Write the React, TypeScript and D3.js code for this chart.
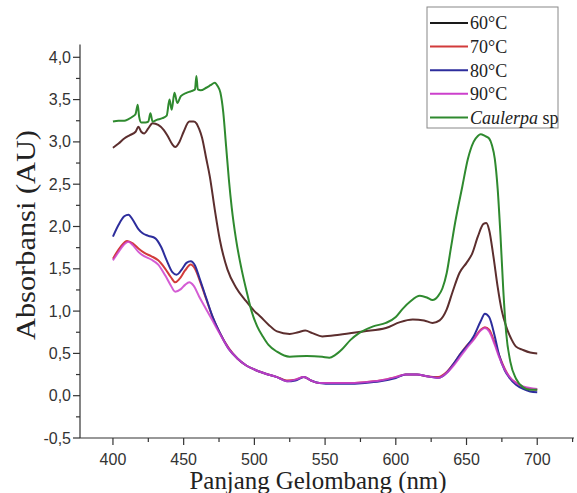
import React, {useMemo} from "react";
import * as d3 from "d3";

// absorbance spectra: [wavelength nm, absorbance AU]
const c60 = [
    [400, 2.93], [404, 2.98], [408, 3.04], [412, 3.08], [416, 3.12], [418, 3.18], [420, 3.12], [422, 3.1],
    [425, 3.16], [428, 3.22], [432, 3.2], [436, 3.14], [439, 3.06], [442, 2.97], [444, 2.94], [447, 3.0],
    [450, 3.12], [454, 3.24], [457, 3.24], [459, 3.22], [461, 3.15], [463, 3.05], [466, 2.8], [468.5, 2.59],
    [472, 2.2], [475.6, 1.84], [481, 1.49], [487, 1.28], [494, 1.12], [500, 1.0], [504, 0.94], [510, 0.84],
    [516, 0.76], [525, 0.73], [531, 0.75], [536, 0.77], [541, 0.74], [548, 0.7], [560, 0.72], [577, 0.76],
    [593, 0.8], [603, 0.87], [612, 0.9], [620, 0.89], [626, 0.86], [631, 0.89], [636, 1.02], [640, 1.22],
    [645, 1.45], [650, 1.57], [654, 1.68], [658, 1.88], [662, 2.03], [664, 2.04], [666, 1.96], [669, 1.65],
    [672, 1.29], [675, 1.0], [678, 0.82], [682, 0.66], [685, 0.58], [690, 0.54], [695, 0.51], [700, 0.5],
];

const c70 = [
    [400, 1.62], [405, 1.75], [410, 1.83], [414, 1.8], [418, 1.74], [422, 1.69], [427, 1.65], [432, 1.6],
    [437, 1.5], [441, 1.4], [444, 1.34], [447, 1.38], [451, 1.48], [455, 1.55], [458, 1.5], [462, 1.33],
    [466, 1.14], [470, 0.95], [475, 0.76], [482, 0.56], [488, 0.44], [494, 0.36], [500, 0.31], [508, 0.26],
    [516, 0.22], [523, 0.18], [529, 0.19], [535, 0.22], [540, 0.18], [546, 0.15], [555, 0.15], [565, 0.15],
    [578, 0.16], [589, 0.18], [600, 0.22], [607, 0.25], [615, 0.25], [622, 0.23], [630, 0.22], [636, 0.28],
    [641, 0.38], [646, 0.5], [650, 0.59], [655, 0.67], [660, 0.78], [663, 0.81], [666, 0.78], [670, 0.62],
    [673, 0.48], [677, 0.32], [680, 0.23], [685, 0.15], [690, 0.1], [695, 0.08], [700, 0.07],
];

const c80 = [
    [400, 1.88], [404, 2.02], [408, 2.12], [411, 2.14], [414, 2.08], [418, 1.97], [421, 1.92], [425, 1.89],
    [430, 1.86], [434, 1.76], [438, 1.6], [442, 1.46], [445, 1.43], [449, 1.5], [452, 1.57], [455, 1.59],
    [458, 1.54], [461, 1.4], [466, 1.15], [471, 0.91], [476, 0.73], [482, 0.55], [488, 0.44], [494, 0.36],
    [500, 0.31], [508, 0.26], [516, 0.22], [523, 0.17], [529, 0.18], [535, 0.22], [540, 0.18], [546, 0.15],
    [555, 0.14], [565, 0.14], [578, 0.15], [589, 0.17], [600, 0.21], [607, 0.25], [615, 0.25], [622, 0.23],
    [630, 0.21], [636, 0.27], [641, 0.38], [646, 0.5], [650, 0.58], [655, 0.7], [660, 0.88], [663, 0.97],
    [666, 0.93], [670, 0.7], [673, 0.48], [677, 0.3], [680, 0.22], [685, 0.13], [690, 0.08], [695, 0.05],
    [700, 0.04],
];

const c90 = [
    [400, 1.6], [404, 1.7], [408, 1.79], [411, 1.82], [414, 1.78], [418, 1.7], [422, 1.65], [427, 1.61],
    [432, 1.55], [437, 1.42], [441, 1.3], [444, 1.23], [448, 1.26], [451, 1.31], [454, 1.34], [457, 1.3],
    [461, 1.17], [466, 1.02], [470, 0.9], [476, 0.72], [482, 0.55], [488, 0.44], [494, 0.36], [500, 0.31],
    [508, 0.26], [516, 0.22], [523, 0.17], [529, 0.19], [535, 0.22], [540, 0.18], [546, 0.15], [555, 0.15],
    [565, 0.15], [578, 0.16], [589, 0.18], [600, 0.22], [607, 0.25], [615, 0.25], [622, 0.23], [630, 0.21],
    [636, 0.27], [641, 0.36], [646, 0.47], [650, 0.56], [655, 0.66], [660, 0.77], [663, 0.8], [666, 0.76],
    [670, 0.6], [673, 0.46], [677, 0.31], [680, 0.23], [685, 0.15], [690, 0.11], [695, 0.09], [700, 0.08],
];

const caulerpa = [
    [400, 3.24], [404, 3.25], [408, 3.25], [411, 3.27], [414, 3.3], [416, 3.33], [417.5, 3.44], [418.5, 3.3],
    [420, 3.23], [423, 3.23], [425, 3.24], [426.5, 3.34], [428, 3.24], [431, 3.26], [435, 3.28], [438, 3.31],
    [440, 3.5], [441.5, 3.38], [443.5, 3.58], [445.5, 3.46], [448, 3.54], [452, 3.58], [455.5, 3.6], [458, 3.62],
    [459, 3.78], [460, 3.62], [462, 3.61], [466, 3.64], [469, 3.67], [472, 3.7], [474, 3.66], [476, 3.58],
    [478, 3.35], [480, 2.95], [482, 2.55], [484, 2.22], [487, 1.85], [491, 1.49], [495, 1.2], [498, 1.0],
    [502, 0.82], [506, 0.7], [510, 0.6], [516, 0.52], [525, 0.46], [537, 0.47], [548, 0.46], [553, 0.45],
    [557, 0.48], [562, 0.55], [568, 0.66], [574, 0.74], [584, 0.82], [593, 0.86], [600, 0.93], [605, 1.03],
    [610, 1.11], [617, 1.18], [622, 1.16], [626, 1.13], [630, 1.18], [633, 1.27], [636, 1.45], [639, 1.75],
    [642, 2.05], [647, 2.47], [651, 2.8], [655, 3.0], [658, 3.07], [660, 3.09], [663, 3.07], [666, 3.04],
    [668, 2.96], [670, 2.8], [672, 2.45], [674, 1.9], [676, 1.25], [678, 0.75], [681, 0.4], [685, 0.2],
    [690, 0.1], [695, 0.07], [700, 0.07],
];

const seriesNames = ["60°C", "70°C", "80°C", "90°C", "Caulerpa"];
const seriesData = [c60, c70, c80, c90, caulerpa];
const lineColors = ["#5c2e2e", "#d23b3b", "#2d2d9c", "#cc40cc", "#2f8a2f"];
const legendColors = ["#1a1a1a", "#d23b3b", "#2d2d9c", "#cc40cc", "#2f8a2f"];

const xTicks = [400, 450, 500, 550, 600, 650, 700];
const yTicks = [-0.5, 0, 0.5, 1, 1.5, 2, 2.5, 3, 3.5, 4];

const W = 577;
const H = 493;
const SANS = "'Liberation Sans', Arial, Helvetica, sans-serif";
const SERIF = "'Liberation Serif', 'Times New Roman', Times, serif";

const App = () => {
    const xScale = useMemo(() => d3.scaleLinear().domain([376.7, 726]).range([80, 574]), []);
    const yScale = useMemo(() => d3.scaleLinear().domain([-0.5, 4.15]).range([438, 44.6]), []);

    const lineGen = d3
        .line()
        .x((d) => xScale(d[0]))
        .y((d) => yScale(d[1]))
        .curve(d3.curveMonotoneX);

    const fmt = (v) => d3.format(".1f")(v).replace(".", ",").replace("−", "-");

    const xMinor = d3.range(425, 726, 50);
    const yMinor = d3.range(-0.25, 4.1, 0.5);

    const x0 = xScale.range()[0];
    const y0 = yScale.range()[0];

    return (
        <svg width={W} height={H} style={{position: "absolute", left: 0, top: 0}}>
            <rect width={W} height={H} fill="#fff" />

            {/* curves */}
            {seriesData.map((s, i) => (
                <path
                    key={i}
                    d={lineGen(s)}
                    fill="none"
                    stroke={lineColors[i]}
                    strokeWidth={2}
                    strokeOpacity={i == 3 ? 0.85 : 1}
                    strokeLinejoin="round"
                />
            ))}

            {/* axes */}
            <line x1={x0} x2={xScale.range()[1]} y1={y0} y2={y0} stroke="#333" strokeWidth={1.2} />
            <line x1={x0} x2={x0} y1={y0} y2={yScale.range()[1]} stroke="#333" strokeWidth={1.2} />

            {xTicks.map((t) => (
                <g key={"x" + t}>
                    <line x1={xScale(t)} x2={xScale(t)} y1={y0} y2={y0 + 7} stroke="#333" strokeWidth={1.2} />
                    <text
                        x={xScale(t)}
                        y={y0 + 27}
                        textAnchor="middle"
                        style={{fontFamily: SANS, fontSize: 16}}
                        fill="#333"
                    >
                        {t}
                    </text>
                </g>
            ))}
            {xMinor.map((t) => (
                <line key={"xm" + t} x1={xScale(t)} x2={xScale(t)} y1={y0} y2={y0 + 4} stroke="#333" strokeWidth={1.2} />
            ))}

            {yTicks.map((t) => (
                <g key={"y" + t}>
                    <line x1={x0 - 7} x2={x0} y1={yScale(t)} y2={yScale(t)} stroke="#333" strokeWidth={1.2} />
                    <text
                        x={x0 - 9}
                        y={yScale(t)}
                        dy="0.35em"
                        textAnchor="end"
                        style={{fontFamily: SANS, fontSize: 16}}
                        fill="#333"
                    >
                        {fmt(t)}
                    </text>
                </g>
            ))}
            {yMinor.map((t) => (
                <line key={"ym" + t} x1={x0 - 4} x2={x0} y1={yScale(t)} y2={yScale(t)} stroke="#333" strokeWidth={1.2} />
            ))}

            {/* axis titles */}
            <text
                x={318}
                y={489}
                textAnchor="middle"
                style={{fontFamily: SERIF, fontSize: 25}}
                textLength={257}
                lengthAdjust="spacingAndGlyphs"
                fill="#222"
            >
                Panjang Gelombang (nm)
            </text>
            <text
                transform="translate(26,235) rotate(-90)"
                dy="0.35em"
                textAnchor="middle"
                style={{fontFamily: SERIF, fontSize: 27}}
                textLength={210}
                lengthAdjust="spacingAndGlyphs"
                fill="#222"
            >
                Absorbansi (AU)
            </text>

            {/* legend */}
            <g>
                <rect x={427} y={7} width={131} height={121} fill="#fff" stroke="#888" strokeWidth={1} />
                {seriesNames.map((n, i) => {
                    const ly = 23 + i * 23.6;
                    return (
                        <g key={n}>
                            <line x1={430} x2={468} y1={ly} y2={ly} stroke={legendColors[i]} strokeWidth={2} />
                            <text
                                x={470}
                                y={ly}
                                dy="0.35em"
                                style={{fontFamily: SERIF, fontSize: 18}}
                                fill="#222"
                            >
                                {i == 4 ? (
                                    <>
                                        <tspan fontStyle="italic">Caulerpa</tspan> sp
                                    </>
                                ) : (
                                    n
                                )}
                            </text>
                        </g>
                    );
                })}
            </g>
        </svg>
    );
};

export default App;
